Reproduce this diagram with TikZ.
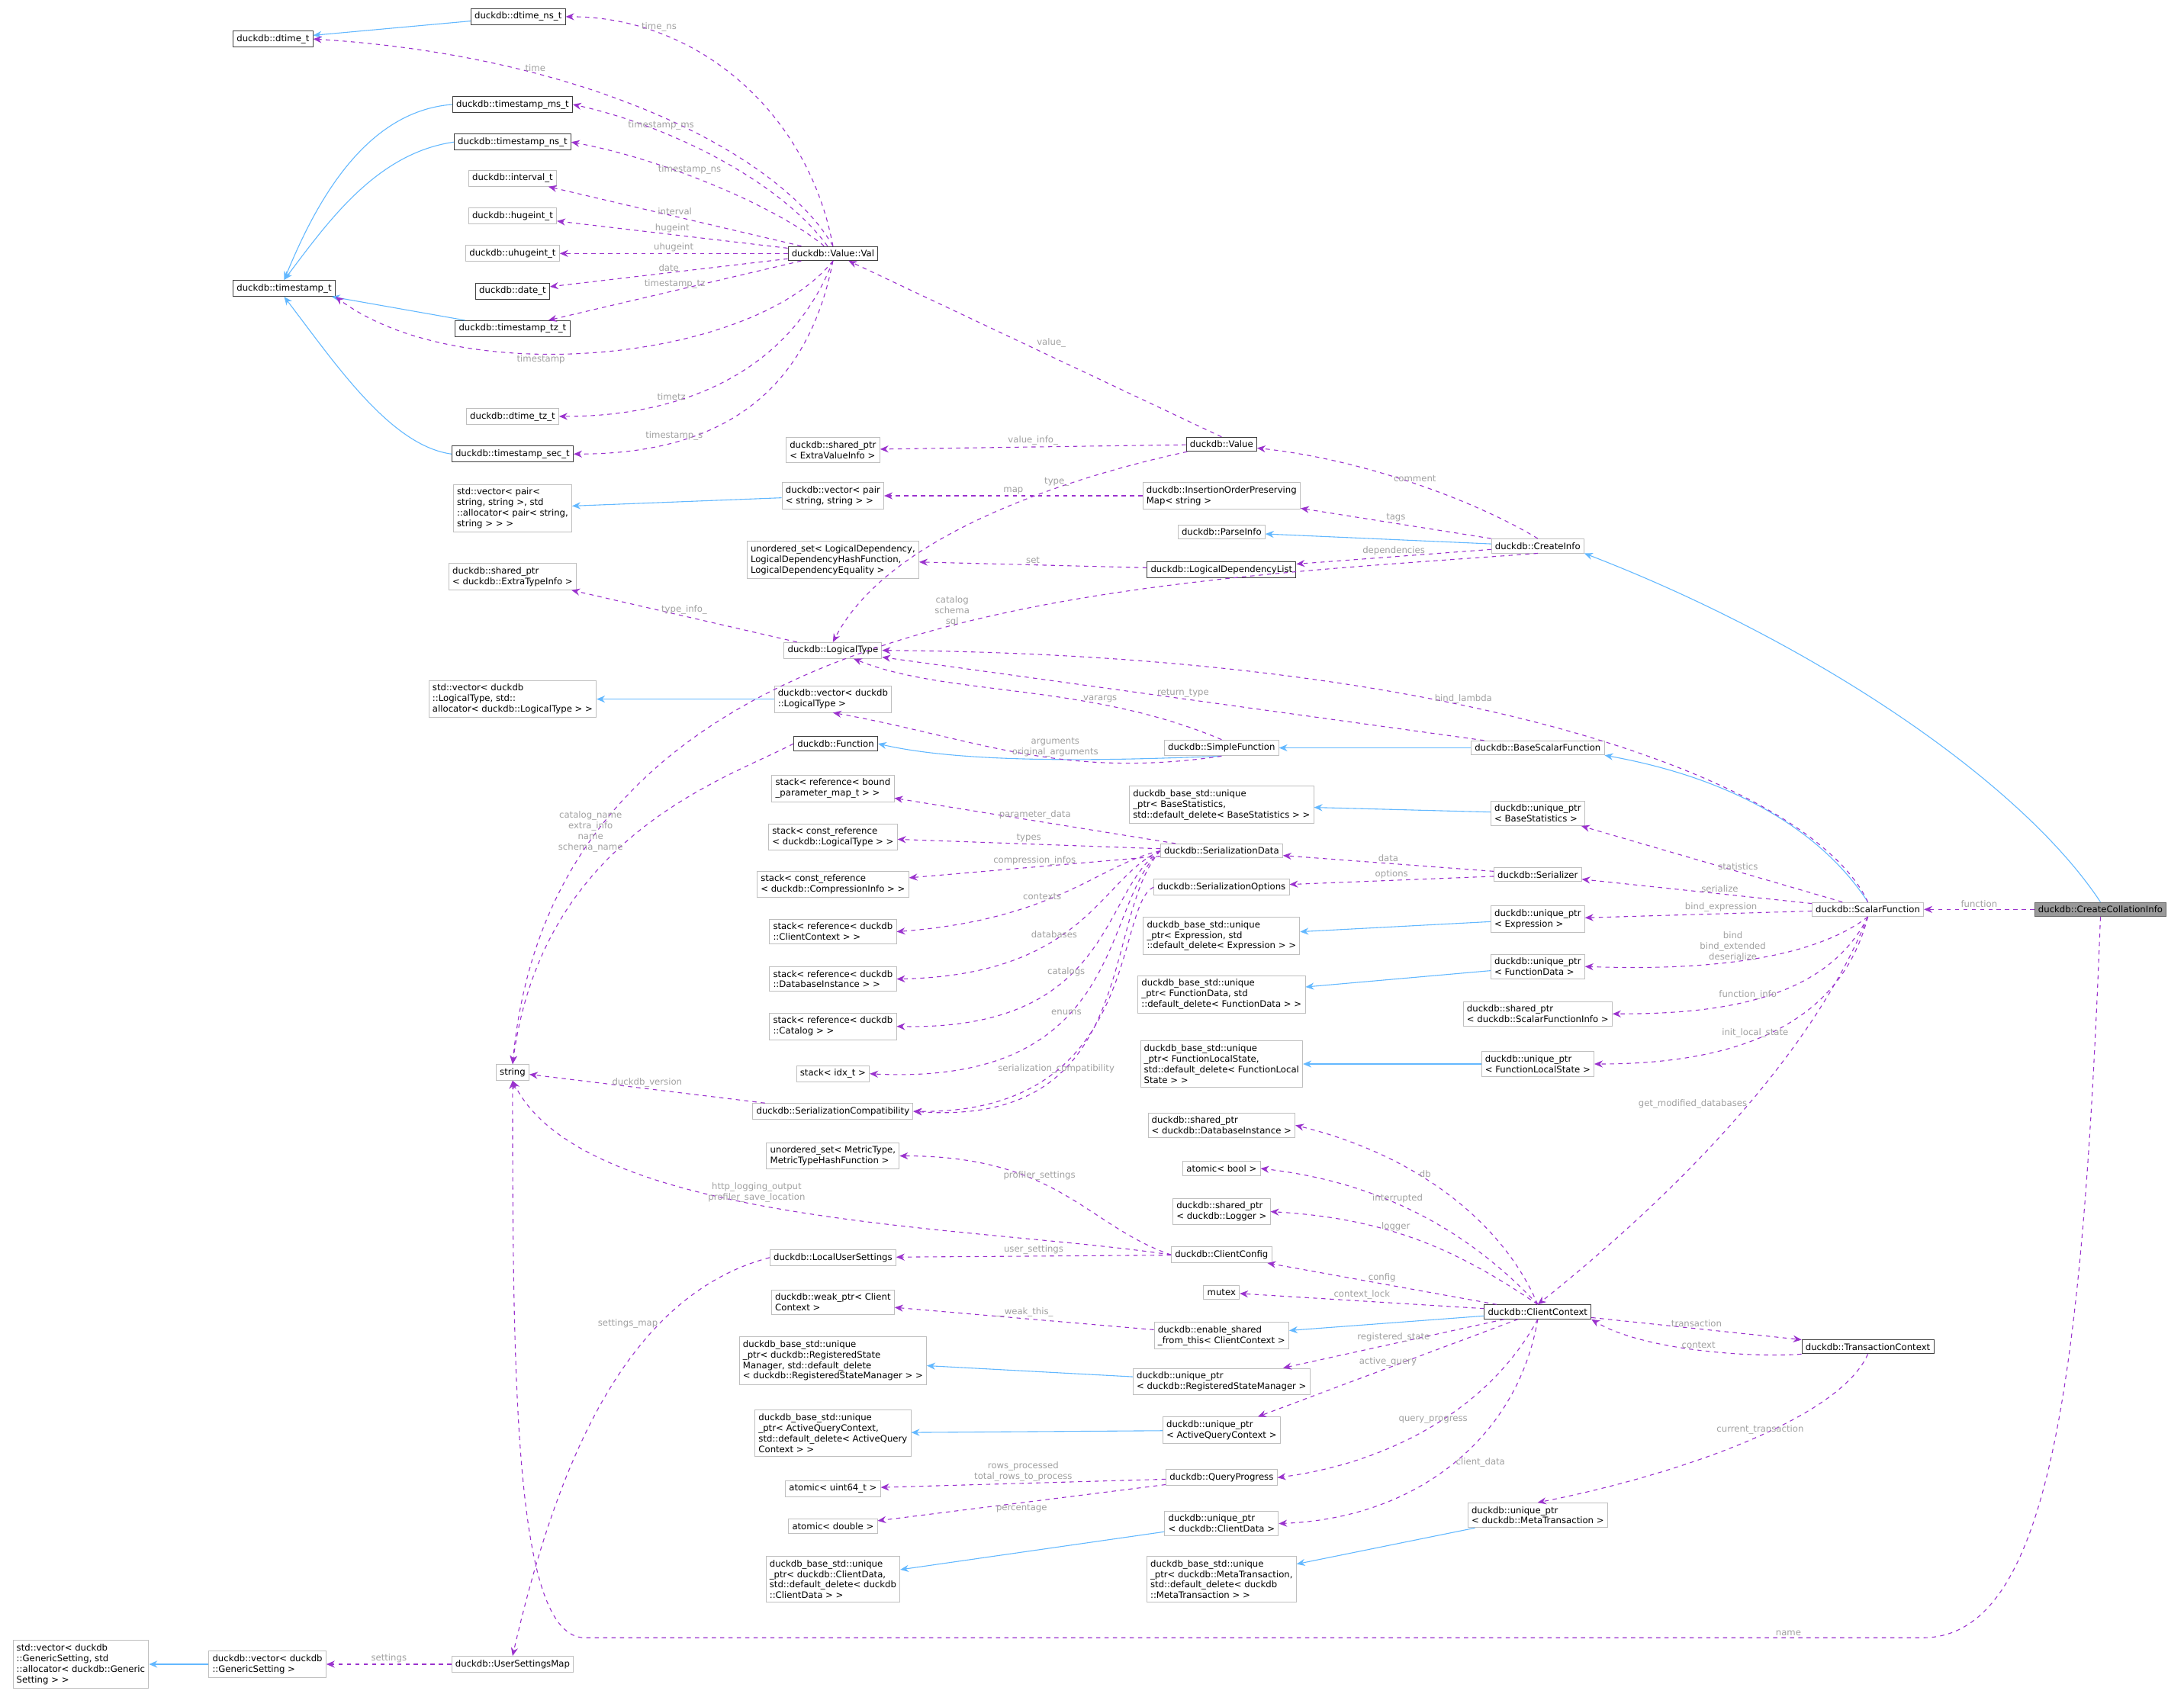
\documentclass[tikz,border=0pt]{standalone}
\usepackage{fontspec}
\setmainfont{DejaVu Sans}
\usetikzlibrary{arrows.meta}
\definecolor{inhc}{HTML}{63B8FF}
\definecolor{memc}{HTML}{9A32CD}
\definecolor{lblc}{HTML}{A0A0A0}
\definecolor{boxc}{HTML}{BFBFBF}
\begin{document}
\begin{tikzpicture}[x=1pt,y=-1pt,
  every node/.style={font=\fontsize{6.4}{7.6}\selectfont},
  box/.style={draw=boxc,fill=white,inner sep=2.6pt,align=left,line width=0.5pt},
  doc/.style={box,draw=black!75},
  inh/.style={{Stealth[length=6pt,width=5pt]}-,draw=inhc,line width=0.6pt},
  mem/.style={-{Stealth[length=6pt,width=5pt]},draw=memc,dashed,line width=0.6pt},
  lbl/.style={text=lblc,align=center,inner sep=1pt}]
\useasboundingbox (0,0) rectangle (1568,1216);
% left column
\node[doc] (tsT) at (204,207) {duckdb::timestamp\_t};
\node[doc] (dtT) at (196,28) {duckdb::dtime\_t};
\node[doc] (dtns) at (372,12) {duckdb::dtime\_ns\_t};
\node[doc] (tsms) at (368,75) {duckdb::timestamp\_ms\_t};
\node[doc] (tsns) at (368,102) {duckdb::timestamp\_ns\_t};
\node[box] (intv) at (368,128) {duckdb::interval\_t};
\node[box] (hug) at (368,155) {duckdb::hugeint\_t};
\node[box] (uhug) at (368,182) {duckdb::uhugeint\_t};
\node[doc] (date) at (368,209) {duckdb::date\_t};
\node[doc] (tstz) at (368,236) {duckdb::timestamp\_tz\_t};
\node[box] (dttz) at (368,299) {duckdb::dtime\_tz\_t};
\node[doc] (tssec) at (368,326) {duckdb::timestamp\_sec\_t};
\node[doc] (val) at (598,182) {duckdb::Value::Val};
\node[box] (svp) at (368,365) {std::vector< pair<\\ string, string >, std\\ ::allocator< pair< string,\\ string > > >};
\node[box] (sevi) at (598,323) {duckdb::shared\_ptr\\< ExtraValueInfo >};
\node[box] (vp) at (598,356) {duckdb::vector< pair\\< string, string > >};
\node[doc] (value) at (877,319) {duckdb::Value};
\node[box] (iop) at (877,356) {duckdb::InsertionOrderPreserving\\Map< string >};
\node[box] (pinfo) at (877,382) {duckdb::ParseInfo};
\node[box] (uset) at (598,402) {unordered\_set< LogicalDependency,\\ LogicalDependencyHashFunction,\\ LogicalDependencyEquality >};
\node[doc] (ldl) at (877,409) {duckdb::LogicalDependencyList};
\node[box] (cinfo) at (1104,392) {duckdb::CreateInfo};
\node[box] (seti) at (368,414) {duckdb::shared\_ptr\\< duckdb::ExtraTypeInfo >};
\node[box] (lt) at (598,467) {duckdb::LogicalType};
\node[box] (svlt) at (368,502) {std::vector< duckdb\\::LogicalType, std::\\allocator< duckdb::LogicalType > >};
\node[box] (vlt) at (598,502) {duckdb::vector< duckdb\\::LogicalType >};
\node[doc] (func) at (600,534) {duckdb::Function};
\node[box] (sfunc) at (877,537) {duckdb::SimpleFunction};
\node[box] (bsf) at (1104,537) {duckdb::BaseScalarFunction};
\node[box] (str) at (368,770) {string};
\node[box] (st1) at (598,566) {stack< reference< bound\\ \_parameter\_map\_t > >};
\node[box] (st2) at (598,601) {stack< const\_reference\\< duckdb::LogicalType > >};
\node[box] (st3) at (598,635) {stack< const\_reference\\< duckdb::CompressionInfo > >};
\node[box] (st4) at (598,669) {stack< reference< duckdb\\ ::ClientContext > >};
\node[box] (st5) at (598,703) {stack< reference< duckdb\\ ::DatabaseInstance > >};
\node[box] (st6) at (598,737) {stack< reference< duckdb\\ ::Catalog > >};
\node[box] (st7) at (598,771) {stack< idx\_t >};
\node[box] (scomp) at (598,798) {duckdb::SerializationCompatibility};
\node[box] (umet) at (598,830) {unordered\_set< MetricType,\\ MetricTypeHashFunction >};
\node[box] (lus) at (598,903) {duckdb::LocalUserSettings};
\node[box] (wcc) at (598,935) {duckdb::weak\_ptr< Client\\ Context >};
\node[box] (brsm) at (598,977) {duckdb\_base\_std::unique\\\_ptr< duckdb::RegisteredState\\Manager, std::default\_delete\\< duckdb::RegisteredStateManager > >};
\node[box] (baqc) at (598,1029) {duckdb\_base\_std::unique\\\_ptr< ActiveQueryContext,\\ std::default\_delete< ActiveQuery\\Context > >};
\node[box] (au64) at (598,1069) {atomic< uint64\_t >};
\node[box] (adbl) at (598,1096) {atomic< double >};
\node[box] (bcd) at (598,1134) {duckdb\_base\_std::unique\\\_ptr< duckdb::ClientData,\\ std::default\_delete< duckdb\\ ::ClientData > >};
\node[box] (svgs) at (58,1195) {std::vector< duckdb\\ ::GenericSetting, std\\ ::allocator< duckdb::Generic\\Setting > >};
\node[box] (vgs) at (192,1195) {duckdb::vector< duckdb\\ ::GenericSetting >};
\node[box] (usm) at (368,1195) {duckdb::UserSettingsMap};
% middle column
\node[box] (bbs) at (877,578) {duckdb\_base\_std::unique\\\_ptr< BaseStatistics,\\ std::default\_delete< BaseStatistics > >};
\node[box] (sdata) at (877,611) {duckdb::SerializationData};
\node[box] (sopt) at (877,637) {duckdb::SerializationOptions};
\node[box] (bexp) at (877,672) {duckdb\_base\_std::unique\\\_ptr< Expression, std\\::default\_delete< Expression > >};
\node[box] (bfd) at (877,714) {duckdb\_base\_std::unique\\\_ptr< FunctionData, std\\::default\_delete< FunctionData > >};
\node[box] (bfls) at (877,764) {duckdb\_base\_std::unique\\\_ptr< FunctionLocalState,\\ std::default\_delete< FunctionLocal\\ State > >};
\node[box] (sdbi) at (877,808) {duckdb::shared\_ptr\\< duckdb::DatabaseInstance >};
\node[box] (abool) at (877,839) {atomic< bool >};
\node[box] (slog) at (877,870) {duckdb::shared\_ptr\\< duckdb::Logger >};
\node[box] (ccfg) at (877,901) {duckdb::ClientConfig};
\node[box] (mutex) at (877,928) {mutex};
\node[box] (esft) at (877,959) {duckdb::enable\_shared\\\_from\_this< ClientContext >};
\node[box] (ursm) at (877,992) {duckdb::unique\_ptr\\< duckdb::RegisteredStateManager >};
\node[box] (uaqc) at (877,1027) {duckdb::unique\_ptr\\< ActiveQueryContext >};
\node[box] (qp) at (877,1061) {duckdb::QueryProgress};
\node[box] (ucd) at (877,1094) {duckdb::unique\_ptr\\< duckdb::ClientData >};
\node[box] (bmt) at (877,1134) {duckdb\_base\_std::unique\\\_ptr< duckdb::MetaTransaction,\\ std::default\_delete< duckdb\\ ::MetaTransaction > >};
% right column
\node[box] (ubs) at (1104,584) {duckdb::unique\_ptr\\< BaseStatistics >};
\node[box] (ser) at (1104,628) {duckdb::Serializer};
\node[box] (uexp) at (1104,660) {duckdb::unique\_ptr\\< Expression >};
\node[box] (ufd) at (1104,694) {duckdb::unique\_ptr\\< FunctionData >};
\node[box] (ssfi) at (1104,728) {duckdb::shared\_ptr\\< duckdb::ScalarFunctionInfo >};
\node[box] (ufls) at (1104,764) {duckdb::unique\_ptr\\< FunctionLocalState >};
\node[doc] (cctx) at (1104,942) {duckdb::ClientContext};
\node[box] (umt) at (1104,1088) {duckdb::unique\_ptr\\< duckdb::MetaTransaction >};
\node[doc] (tctx) at (1341,967) {duckdb::TransactionContext};
\node[box] (scf) at (1341,653) {duckdb::ScalarFunction};
\node[box,fill=black!40,draw=black!60] (cci) at (1508,653) {duckdb::CreateCollationInfo};
\coordinate (nm1) at (1380,1176);
\coordinate (nm2) at (420,1176);
% inheritance
\draw[inh] (dtT) -- (dtns);
\draw[inh] (tsT.north) .. controls (225,150) and (260,80) .. (tsms.west);
\draw[inh] (tsT.north) .. controls (235,160) and (270,110) .. (tsns.west);
\draw[inh] (tsT) -- (tstz);
\draw[inh] (tsT.south) .. controls (240,260) and (280,320) .. (tssec.west);
\draw[inh] (svp) -- (vp);
\draw[inh] (pinfo) -- (cinfo);
\draw[inh] (cinfo.south east) .. controls (1300,460) and (1450,560) .. (cci.north);
\draw[inh] (bsf.south east) .. controls (1250,560) and (1310,600) .. (scf.north);
\draw[inh] (sfunc) -- (bsf);
\draw[inh] (func.east) .. controls (700,550) and (820,545) .. (sfunc.south);
\draw[inh] (svlt) -- (vlt);
\draw[inh] (bbs) -- (ubs);
\draw[inh] (bexp) -- (uexp);
\draw[inh] (bfd) -- (ufd);
\draw[inh] (bfls) -- (ufls);
\draw[inh] (esft) -- (cctx);
\draw[inh] (brsm) -- (ursm);
\draw[inh] (baqc) -- (uaqc);
\draw[inh] (bcd) -- (ucd);
\draw[inh] (bmt) -- (umt);
\draw[inh] (svgs) -- (vgs);
% Value::Val members
\draw[mem] (val.north) .. controls (580,80) and (500,12) .. (dtns.east) node[lbl,pos=0.75,above]{time\_ns};
\draw[mem] (val.north) .. controls (560,110) and (420,40) .. (dtT.east) node[lbl,pos=0.7,above]{time};
\draw[mem] (val) .. controls (560,130) and (480,90) .. (tsms.east) node[lbl,pos=0.7,above]{timestamp\_ms};
\draw[mem] (val) .. controls (560,150) and (480,115) .. (tsns.east) node[lbl,pos=0.6,above]{timestamp\_ns};
\draw[mem] (val) -- (intv) node[lbl,pos=0.5,above]{interval};
\draw[mem] (val) -- (hug) node[lbl,pos=0.5,above]{hugeint};
\draw[mem] (val) -- (uhug) node[lbl,pos=0.5,above]{uhugeint};
\draw[mem] (val) -- (date) node[lbl,pos=0.5,above]{date};
\draw[mem] (val) -- (tstz) node[lbl,pos=0.5,above]{timestamp\_tz};
\draw[mem] (val.south) .. controls (540,260) and (330,280) .. (tsT.south east) node[lbl,pos=0.6,below]{timestamp};
\draw[mem] (val.south) .. controls (570,260) and (500,299) .. (dttz.east) node[lbl,pos=0.7,above]{timetz};
\draw[mem] (val.south) .. controls (580,280) and (520,326) .. (tssec.east) node[lbl,pos=0.75,above]{timestamp\_s};
% Value
\draw[mem] (value.north) -- (val) node[lbl,pos=0.5,above right]{value\_};
\draw[mem] (value) -- (sevi) node[lbl,pos=0.5,above]{value\_info\_};
\draw[mem] (value) .. controls (780,340) and (640,380) .. (lt.north) node[lbl,pos=0.35,above]{type\_};
\draw[mem] (iop) -- (vp) node[lbl,pos=0.5,above]{map};
\draw[mem] (cinfo.north) .. controls (1060,360) and (980,330) .. (value) node[lbl,pos=0.5,above]{comment};
\draw[mem] (cinfo) -- (iop) node[lbl,pos=0.5,above]{tags};
\draw[mem] (cinfo) -- (ldl) node[lbl,pos=0.5,above]{dependencies};
\draw[mem] (cinfo.south) .. controls (800,420) and (400,430) .. (str.north) node[lbl,pos=0.45,above,xshift=6pt]{catalog\\schema\\sql};
\draw[mem] (ldl) -- (uset) node[lbl,pos=0.5,above]{set};
\draw[mem] (lt) -- (seti) node[lbl,pos=0.5,above]{type\_info\_};
\draw[mem] (sfunc.north) .. controls (780,490) and (680,500) .. (lt) node[lbl,pos=0.3,above]{varargs};
\draw[mem] (sfunc.south) .. controls (760,560) and (700,530) .. (vlt.south) node[lbl,pos=0.4,above]{arguments\\original\_arguments};
\draw[mem] (bsf) -- (lt) node[lbl,pos=0.5,above]{return\_type};
\draw[mem] (scf.north) .. controls (1300,560) and (1050,470) .. (lt.east) node[lbl,pos=0.6,above]{bind\_lambda};
\draw[mem] (func.west) .. controls (520,560) and (390,600) .. (str.north) node[lbl,pos=0.5,left,xshift=-10pt]{catalog\_name\\extra\_info\\name\\schema\_name};
% SerializationData
\draw[mem] (sdata) -- (st1) node[lbl,pos=0.5,above]{parameter\_data};
\draw[mem] (sdata) -- (st2) node[lbl,pos=0.5,above]{types};
\draw[mem] (sdata) -- (st3) node[lbl,pos=0.5,above]{compression\_infos};
\draw[mem] (sdata.west) .. controls (790,620) and (760,660) .. (st4.east) node[lbl,pos=0.6,above]{contexts};
\draw[mem] (sdata.west) .. controls (790,630) and (780,700) .. (st5.east) node[lbl,pos=0.6,above]{databases};
\draw[mem] (sdata.west) .. controls (790,640) and (800,740) .. (st6.east) node[lbl,pos=0.6,above]{catalogs};
\draw[mem] (sdata.west) .. controls (790,650) and (810,780) .. (st7.east) node[lbl,pos=0.6,above]{enums};
\draw[mem] (sdata.west) .. controls (790,660) and (820,810) .. (scomp.east) node[lbl,pos=0.7,above]{serialization\_compatibility};
\draw[mem] (sopt.west) .. controls (800,650) and (820,800) .. (scomp.east);
\draw[mem] (scomp) -- (str) node[lbl,pos=0.5,above]{duckdb\_version};
\draw[mem] (ser) -- (sdata) node[lbl,pos=0.5,above]{data};
\draw[mem] (ser) -- (sopt) node[lbl,pos=0.5,above]{options};
% ScalarFunction
\draw[mem] (scf) -- (ubs) node[lbl,pos=0.4,above]{statistics};
\draw[mem] (scf) -- (ser) node[lbl,pos=0.4,above]{serialize};
\draw[mem] (scf) -- (uexp) node[lbl,pos=0.4,above]{bind\_expression};
\draw[mem] (scf.south) .. controls (1300,690) and (1220,697) .. (ufd.east) node[lbl,pos=0.55,above]{bind\\bind\_extended\\deserialize};
\draw[mem] (scf.south) .. controls (1310,720) and (1230,728) .. (ssfi.east) node[lbl,pos=0.55,above]{function\_info};
\draw[mem] (scf.south) .. controls (1320,740) and (1240,764) .. (ufls.east) node[lbl,pos=0.55,above]{init\_local\_state};
\draw[mem] (scf.south) .. controls (1300,760) and (1200,860) .. (cctx.north) node[lbl,pos=0.45,left]{get\_modified\_databases};
\draw[mem] (cci) -- (scf) node[lbl,pos=0.5,above]{function};
\draw[mem] (cci.south) .. controls (1495,1000) and (1470,1176) .. (nm1) -- (nm2) node[lbl,pos=0.1,above]{name} .. controls (370,1176) and (368,1000) .. (str.south);
% ClientConfig
\draw[mem] (ccfg.west) .. controls (780,880) and (760,830) .. (umet.east) node[lbl,pos=0.6,above]{profiler\_settings};
\draw[mem] (ccfg.west) .. controls (700,880) and (420,880) .. (str.south) node[lbl,pos=0.55,above]{http\_logging\_output\\profiler\_save\_location};
\draw[mem] (ccfg) -- (lus) node[lbl,pos=0.5,above]{user\_settings};
\draw[mem] (lus.west) .. controls (450,930) and (400,1050) .. (usm.north) node[lbl,pos=0.3,left]{settings\_map};
\draw[mem] (usm) -- (vgs) node[lbl,pos=0.5,above]{settings};
% ClientContext
\draw[mem] (cctx.north) .. controls (1080,880) and (1020,830) .. (sdbi.east) node[lbl,pos=0.6,above]{db};
\draw[mem] (cctx.north) .. controls (1060,890) and (1000,850) .. (abool.east) node[lbl,pos=0.6,above]{interrupted};
\draw[mem] (cctx.north) .. controls (1050,900) and (1000,875) .. (slog.east) node[lbl,pos=0.6,above]{logger};
\draw[mem] (cctx) -- (ccfg) node[lbl,pos=0.5,above]{config};
\draw[mem] (cctx) -- (mutex) node[lbl,pos=0.5,above]{context\_lock};
\draw[mem] (cctx) -- (ursm) node[lbl,pos=0.5,above]{registered\_state};
\draw[mem] (cctx) -- (uaqc) node[lbl,pos=0.5,above]{active\_query};
\draw[mem] (cctx.south) .. controls (1070,1010) and (1000,1050) .. (qp.east) node[lbl,pos=0.5,above]{query\_progress};
\draw[mem] (cctx.south) .. controls (1090,1030) and (1020,1090) .. (ucd.east) node[lbl,pos=0.5,right]{client\_data};
\draw[mem] (cctx) -- (tctx) node[lbl,pos=0.5,above]{transaction};
\draw[mem] (tctx.south west) .. controls (1260,975) and (1180,970) .. (cctx.south east) node[lbl,pos=0.5,above]{context};
\draw[mem] (tctx.south) .. controls (1320,1020) and (1200,1060) .. (umt.north) node[lbl,pos=0.45,above]{current\_transaction};
\draw[mem] (esft) -- (wcc) node[lbl,pos=0.5,above]{\_\_weak\_this\_};
\draw[mem] (qp) -- (au64) node[lbl,pos=0.5,above]{rows\_processed\\total\_rows\_to\_process};
\draw[mem] (qp) -- (adbl) node[lbl,pos=0.5,below]{percentage};
\end{tikzpicture}
\end{document}
